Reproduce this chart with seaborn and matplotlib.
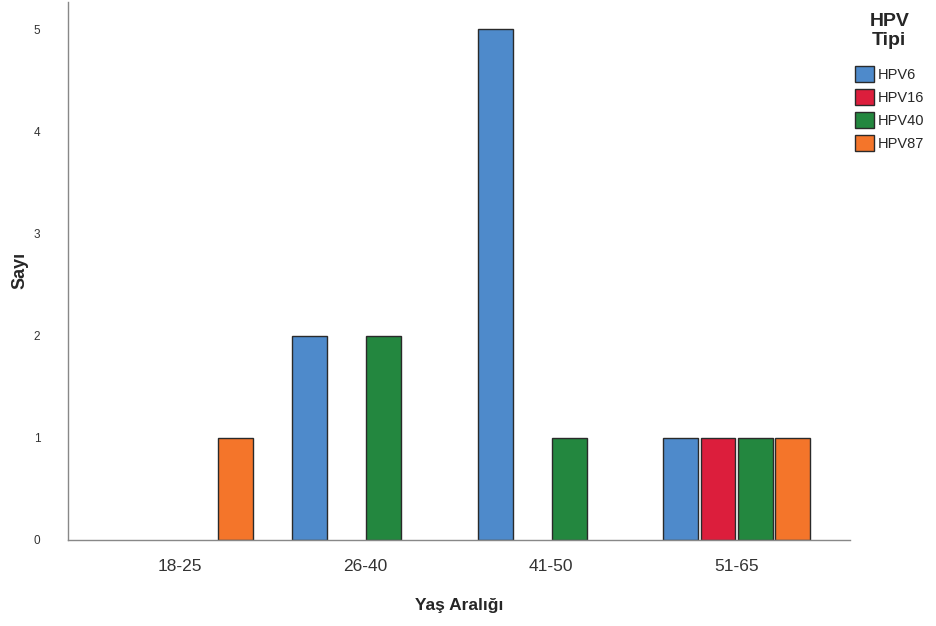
import pandas as pd
import matplotlib
matplotlib.use("Agg")
import matplotlib.pyplot as plt
import seaborn as sns

# data
age_groups = ["18-25", "26-40", "41-50", "51-65"]
hpv_types = ["HPV6", "HPV16", "HPV40", "HPV87"]
hpv6 = [0, 2, 5, 1]
hpv16 = [0, 0, 0, 1]
hpv40 = [0, 2, 1, 1]
hpv87 = [1, 0, 0, 1]
colors = ["#4E8ACB", "#DC1E3C", "#23873F", "#F4752A"]

rows = []
for name, vals in zip(hpv_types, [hpv6, hpv16, hpv40, hpv87]):
    for grp, v in zip(age_groups, vals):
        if v > 0:
            rows.append({"age": grp, "type": name, "count": v})
df = pd.DataFrame(rows)

sns.set_theme(style="white")
plt.rcParams["font.family"] = ["Liberation Sans", "DejaVu Sans"]

fig = plt.figure(figsize=(9.36, 6.26), dpi=100)
ax = fig.add_axes([0.0727, 0.1374, 0.8353, 0.8596])

sns.barplot(data=df, x="age", y="count", hue="type", order=age_groups,
            hue_order=hpv_types, palette=colors, saturation=1, width=0.8,
            gap=0.06, edgecolor="#2a2a2a", linewidth=1.0, ax=ax, legend=True)

ax.set_xlim(-0.6, 3.61)
ax.set_ylim(0, 5.27)
ax.set_yticks([0, 1, 2, 3, 4, 5])
ax.tick_params(axis="y", labelsize=8.5, length=0, pad=20, colors="#333333")
ax.tick_params(axis="x", labelsize=12.5, length=0, pad=14, colors="#333333")
for s in ["top", "right"]:
    ax.spines[s].set_visible(False)
for s in ["left", "bottom"]:
    ax.spines[s].set_color("#888888")
    ax.spines[s].set_linewidth(1.0)

ax.set_xlabel("Yaş Aralığı", fontsize=12.5, fontweight="bold", labelpad=17)
ax.set_ylabel("Sayı", fontsize=13, fontweight="bold", labelpad=4)

leg = ax.legend(title="HPV\nTipi", loc="upper left", bbox_to_anchor=(0.995, 0.995),
                frameon=False, fontsize=10.5, handlelength=1.35, handleheight=1.35,
                handletextpad=0.2, labelspacing=0.45, borderaxespad=0.2)
leg.get_title().set_fontweight("bold")
leg.get_title().set_fontsize(14)
leg.get_title().set_multialignment("center")
leg.get_title().set_linespacing(1.15)
leg._legend_box.sep = 12

fig.savefig("out.png", dpi=100)
